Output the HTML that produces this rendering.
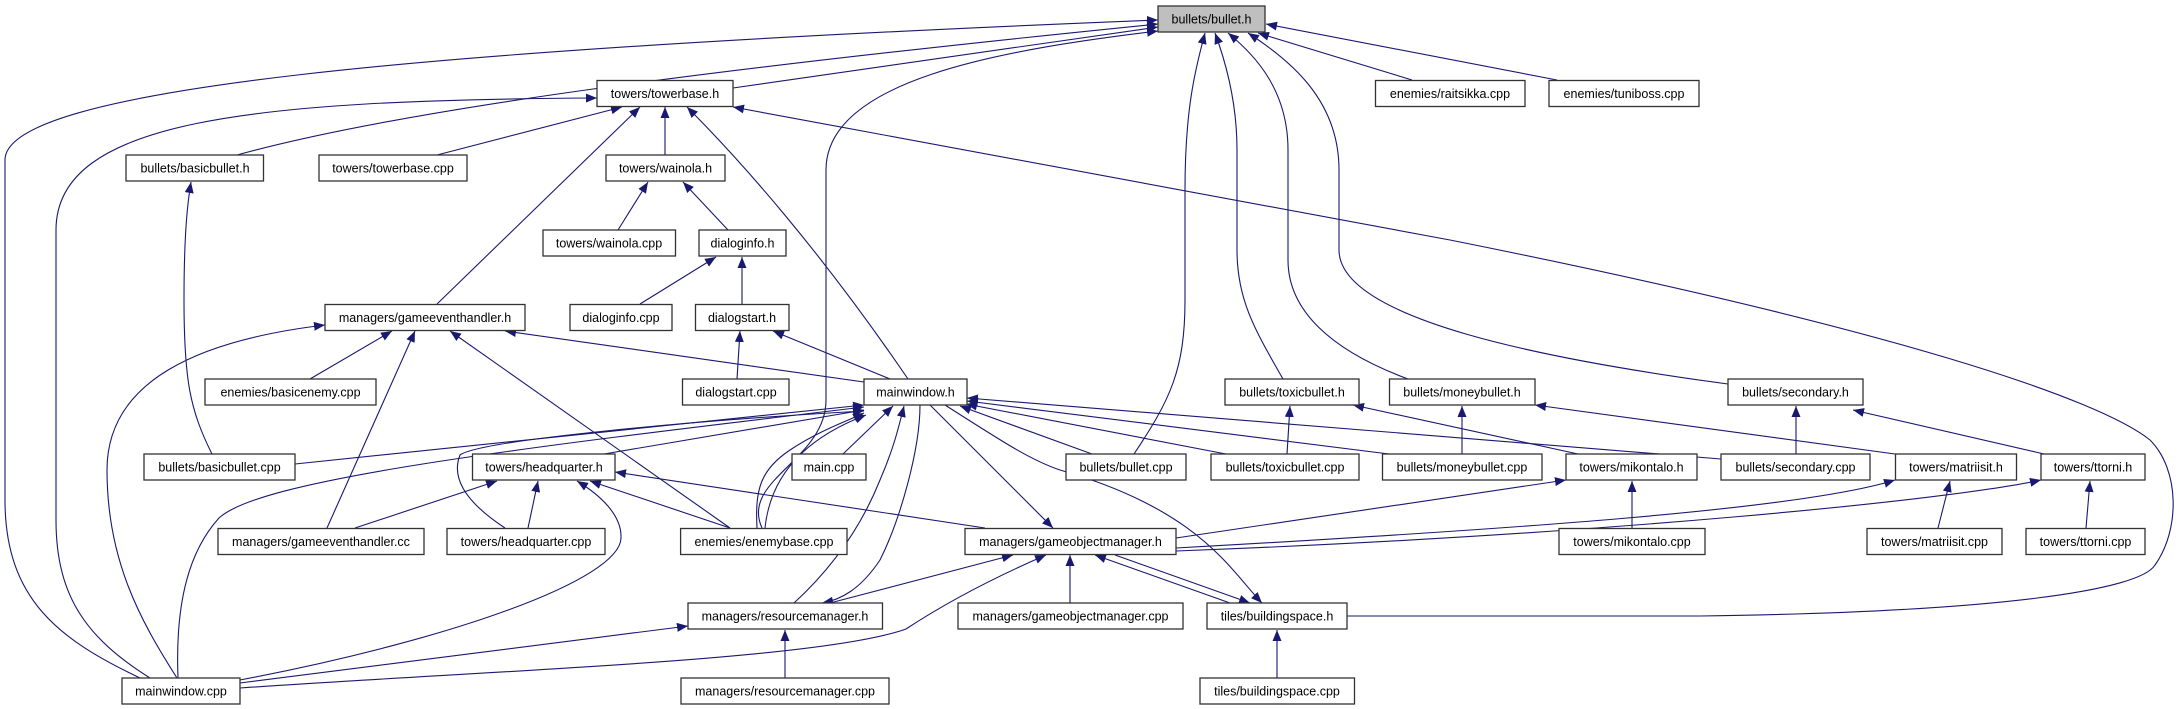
<!DOCTYPE html>
<html><head><meta charset="utf-8"><style>
html,body{margin:0;padding:0;background:#fff;}
svg{display:block;}
text{font-family:"Liberation Sans",sans-serif;font-size:12.5px;fill:#000;}
</style></head><body>
<svg width="2180" height="709" viewBox="0 0 2180 709" xmlns="http://www.w3.org/2000/svg">
<defs>
<marker id="a" markerUnits="userSpaceOnUse" markerWidth="12" markerHeight="9" refX="11" refY="4.5" orient="auto">
<path d="M0,0 L11,4.5 L0,9 z" fill="#191970"/>
</marker>
</defs>
<g fill="none" stroke="#191970" stroke-width="1.1" marker-end="url(#a)">
<path d="M140,678 C60,640 5,600 5,500 L5,160 C5,90 400,50 1158,20"/>
<path d="M237,155 C400,110 700,70 1158,24"/>
<path d="M733,88 L1158,27"/>
<path d="M762,528 C740,480 826,460 826,400 L826,170 C826,80 1000,50 1158,31"/>
<path d="M1134,454 C1170,400 1185,370 1185,300 L1185,190 C1185,110 1195,70 1205,33"/>
<path d="M1283,379 C1255,330 1237,300 1237,250 L1237,150 C1237,100 1225,60 1215,33"/>
<path d="M1408,379 C1330,350 1288,310 1288,260 L1288,150 C1288,90 1255,55 1228,33"/>
<path d="M1728,384 C1550,360 1339,320 1339,250 L1339,170 C1339,100 1290,60 1248,33"/>
<path d="M1412,80 L1258,33"/>
<path d="M1557,80 L1266,24"/>
<path d="M150,678 C90,640 56,600 56,520 L56,230 C56,120 250,100 597,98"/>
<path d="M437,155 L622,107"/>
<path d="M665,155 L665,107"/>
<path d="M437,304 L640,107"/>
<path d="M908,379 C820,250 740,160 687,107"/>
<path d="M1347,616 L1700,616 C2000,612 2140,590 2155,565 C2180,530 2180,470 2150,440 C2100,400 1900,330 1450,240 L733,107"/>
<path d="M212,454 C190,410 184,380 184,300 C184,230 188,200 191,182"/>
<path d="M618,230 L648,182"/>
<path d="M728,230 L683,182"/>
<path d="M640,304 L716,257"/>
<path d="M742,304 L742,257"/>
<path d="M737,379 L740,331"/>
<path d="M890,379 L773,331"/>
<path d="M177,678 C140,620 107,560 107,470 C107,380 200,340 325,325"/>
<path d="M310,379 L392,331"/>
<path d="M327,528 L415,331"/>
<path d="M730,528 L450,331"/>
<path d="M864,382 L505,331"/>
<path d="M295,464 L864,405"/>
<path d="M178,678 C175,600 190,550 219,518 C260,480 500,450 864,407"/>
<path d="M604,454 L864,410"/>
<path d="M505,528 C470,505 450,480 460,455 C480,440 700,420 864,411"/>
<path d="M757,528 C755,490 760,470 790,450 C820,430 850,420 864,413"/>
<path d="M765,528 C770,480 800,440 866,415"/>
<path d="M843,454 L893,406"/>
<path d="M794,603 C830,570 860,530 880,480 C893,450 898,430 904,406"/>
<path d="M920,405 C920,450 900,520 880,560 C860,590 840,600 822,603"/>
<path d="M1092,454 L960,406"/>
<path d="M1226,454 L966,404"/>
<path d="M1389,454 L967,401"/>
<path d="M1721,459 L967,398"/>
<path d="M930,405 L1053,528"/>
<path d="M945,405 C1000,440 1030,460 1060,470 C1200,510 1230,570 1262,603"/>
<path d="M1895,454 L1535,405"/>
<path d="M1578,454 L1353,405"/>
<path d="M1287,454 L1290,406"/>
<path d="M1462,454 L1462,406"/>
<path d="M1796,454 L1796,406"/>
<path d="M2044,454 L1853,410"/>
<path d="M1632,528 L1632,481"/>
<path d="M1176,538 L1566,480"/>
<path d="M1938,528 L1950,481"/>
<path d="M1176,548 C1500,530 1800,510 1895,480"/>
<path d="M1176,551 C1600,535 1950,500 2041,480"/>
<path d="M2086,528 L2090,481"/>
<path d="M355,528 L497,481"/>
<path d="M528,528 L538,481"/>
<path d="M240,680 C450,640 620,580 621,538 C622,515 600,495 577,481"/>
<path d="M730,528 L590,481"/>
<path d="M985,528 L615,472"/>
<path d="M830,603 L1013,555"/>
<path d="M240,688 C500,670 820,660 906,629 C950,600 1000,575 1046,555"/>
<path d="M1070,603 L1070,555"/>
<path d="M1230,603 L1095,555"/>
<path d="M1115,555 L1250,603"/>
<path d="M240,683 L688,626"/>
<path d="M785,678 L785,630"/>
<path d="M1277,678 L1277,630"/>
</g>
<g stroke="#333" stroke-width="1.3">
<rect x="1158" y="6" width="107" height="26" fill="#bfbfbf"/>
<g fill="#fff">
<rect x="597" y="80.5" width="136" height="26"/>
<rect x="1375.5" y="80.5" width="149.5" height="26"/>
<rect x="1549" y="80.5" width="150" height="26"/>
<rect x="126" y="155" width="137.5" height="26"/>
<rect x="319" y="155" width="148" height="26"/>
<rect x="606" y="155" width="119" height="26"/>
<rect x="543" y="230" width="132.5" height="26"/>
<rect x="699" y="230" width="87" height="26"/>
<rect x="325" y="304.5" width="200" height="26"/>
<rect x="570" y="304.5" width="102" height="26"/>
<rect x="695.5" y="304.5" width="93.5" height="26"/>
<rect x="205" y="379" width="171" height="26"/>
<rect x="682.5" y="379" width="106.5" height="26"/>
<rect x="864" y="379" width="103" height="26"/>
<rect x="1225" y="379" width="134" height="26"/>
<rect x="1389.5" y="379" width="145.5" height="26"/>
<rect x="1728" y="379" width="135" height="26"/>
<rect x="144" y="454" width="151" height="26"/>
<rect x="472.5" y="454" width="142.5" height="26"/>
<rect x="792" y="454" width="74" height="26"/>
<rect x="1066" y="454" width="120" height="26"/>
<rect x="1211" y="454" width="148" height="26"/>
<rect x="1382.5" y="454" width="159.5" height="26"/>
<rect x="1566" y="454" width="131" height="26"/>
<rect x="1721" y="454" width="149" height="26"/>
<rect x="1895.5" y="454" width="121" height="26"/>
<rect x="2041" y="454" width="104" height="26"/>
<rect x="218" y="528.5" width="206" height="26"/>
<rect x="447" y="528.5" width="158" height="26"/>
<rect x="680.6" y="528.5" width="166.4" height="26"/>
<rect x="965" y="528.5" width="211" height="26"/>
<rect x="1559" y="528.5" width="146" height="26"/>
<rect x="1867" y="528.5" width="135" height="26"/>
<rect x="2026" y="528.5" width="119" height="26"/>
<rect x="688" y="603" width="194.5" height="26"/>
<rect x="958" y="603" width="225" height="26"/>
<rect x="1207" y="603" width="140" height="26"/>
<rect x="122" y="678" width="118" height="26"/>
<rect x="681" y="678" width="208" height="26"/>
<rect x="1200" y="678" width="154.5" height="26"/>
</g></g>
<g text-anchor="middle">
<text x="1211.5" y="23.5">bullets/bullet.h</text>
<text x="665" y="98">towers/towerbase.h</text>
<text x="1450" y="98">enemies/raitsikka.cpp</text>
<text x="1624" y="98">enemies/tuniboss.cpp</text>
<text x="195" y="172.5">bullets/basicbullet.h</text>
<text x="393" y="172.5">towers/towerbase.cpp</text>
<text x="665.5" y="172.5">towers/wainola.h</text>
<text x="609" y="247.5">towers/wainola.cpp</text>
<text x="742.5" y="247.5">dialoginfo.h</text>
<text x="425" y="322">managers/gameeventhandler.h</text>
<text x="621" y="322">dialoginfo.cpp</text>
<text x="742" y="322">dialogstart.h</text>
<text x="290.5" y="396.5">enemies/basicenemy.cpp</text>
<text x="736" y="396.5">dialogstart.cpp</text>
<text x="915.5" y="396.5">mainwindow.h</text>
<text x="1292" y="396.5">bullets/toxicbullet.h</text>
<text x="1462" y="396.5">bullets/moneybullet.h</text>
<text x="1795.5" y="396.5">bullets/secondary.h</text>
<text x="219.5" y="471.5">bullets/basicbullet.cpp</text>
<text x="544" y="471.5">towers/headquarter.h</text>
<text x="829" y="471.5">main.cpp</text>
<text x="1126" y="471.5">bullets/bullet.cpp</text>
<text x="1285" y="471.5">bullets/toxicbullet.cpp</text>
<text x="1462" y="471.5">bullets/moneybullet.cpp</text>
<text x="1631.5" y="471.5">towers/mikontalo.h</text>
<text x="1795.5" y="471.5">bullets/secondary.cpp</text>
<text x="1956" y="471.5">towers/matriisit.h</text>
<text x="2093" y="471.5">towers/ttorni.h</text>
<text x="321" y="546">managers/gameeventhandler.cc</text>
<text x="526" y="546">towers/headquarter.cpp</text>
<text x="764" y="546">enemies/enemybase.cpp</text>
<text x="1070.5" y="546">managers/gameobjectmanager.h</text>
<text x="1632" y="546">towers/mikontalo.cpp</text>
<text x="1934.5" y="546">towers/matriisit.cpp</text>
<text x="2085.5" y="546">towers/ttorni.cpp</text>
<text x="785" y="620.5">managers/resourcemanager.h</text>
<text x="1070.5" y="620.5">managers/gameobjectmanager.cpp</text>
<text x="1277" y="620.5">tiles/buildingspace.h</text>
<text x="181" y="695.5">mainwindow.cpp</text>
<text x="785" y="695.5">managers/resourcemanager.cpp</text>
<text x="1277" y="695.5">tiles/buildingspace.cpp</text>
</g>
</svg>
</body></html>
